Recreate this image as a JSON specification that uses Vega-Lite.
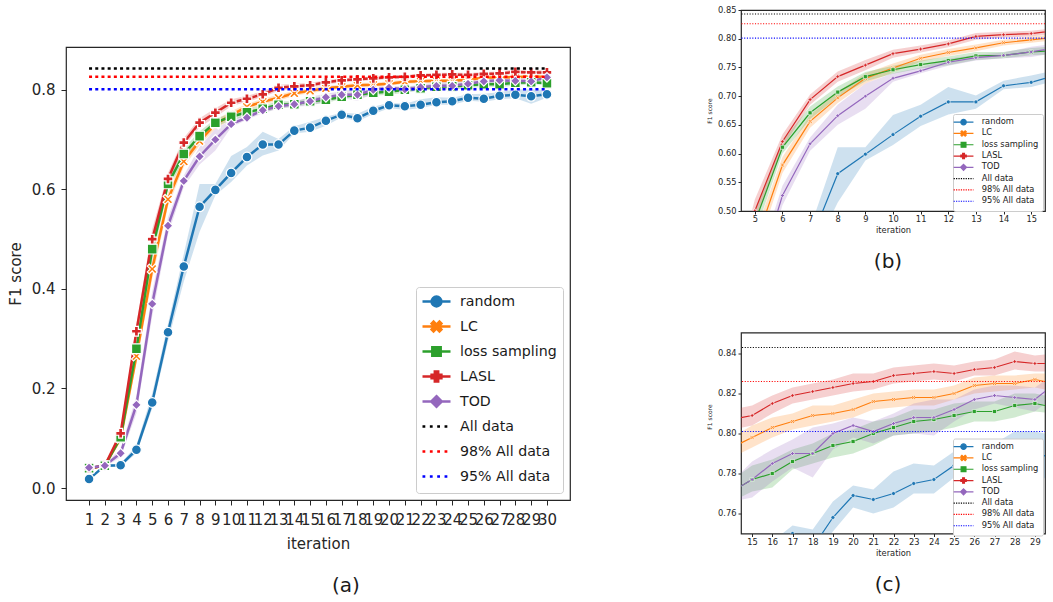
{
"$schema": "https://vega.github.io/schema/vega-lite/v6.json",
"background": "white",
"padding": {"left": 7, "top": 4, "right": 0, "bottom": 0},
"config": {
  "font": "DejaVu Sans",
  "view": {"stroke": "#262626", "strokeWidth": 1.2},
  "axis": {"grid": false, "domain": false, "tickColor": "#262626", "labelColor": "#262626", "titleColor": "#262626", "titleFontWeight": "normal", "labelFont": "DejaVu Sans", "titleFont": "DejaVu Sans"},
  "legend": {"labelFont": "DejaVu Sans", "labelColor": "#1a1a1a"},
  "title": {"font": "DejaVu Sans", "fontWeight": "normal", "color": "#1a1a1a"}
},
"datasets": {
"refs": [
{"method": "All data", "f1": 0.843, "from": 1, "to": 30},
{"method": "98% All data", "f1": 0.826, "from": 1, "to": 30},
{"method": "95% All data", "f1": 0.801, "from": 1, "to": 30}
],
"main": [
{"method":"random","iteration":1,"f1":0.018,"lo":0.016,"hi":0.020},
{"method":"random","iteration":2,"f1":0.045,"lo":0.043,"hi":0.047},
{"method":"random","iteration":3,"f1":0.046,"lo":0.043,"hi":0.049},
{"method":"random","iteration":4,"f1":0.077,"lo":0.070,"hi":0.086},
{"method":"random","iteration":5,"f1":0.172,"lo":0.160,"hi":0.190},
{"method":"random","iteration":6,"f1":0.313,"lo":0.295,"hi":0.330},
{"method":"random","iteration":7,"f1":0.445,"lo":0.415,"hi":0.470},
{"method":"random","iteration":8,"f1":0.565,"lo":0.515,"hi":0.611},
{"method":"random","iteration":9,"f1":0.599,"lo":0.588,"hi":0.611},
{"method":"random","iteration":10,"f1":0.633,"lo":0.615,"hi":0.667},
{"method":"random","iteration":11,"f1":0.665,"lo":0.648,"hi":0.685},
{"method":"random","iteration":12,"f1":0.690,"lo":0.668,"hi":0.716},
{"method":"random","iteration":13,"f1":0.690,"lo":0.678,"hi":0.701},
{"method":"random","iteration":14,"f1":0.718,"lo":0.712,"hi":0.727},
{"method":"random","iteration":15,"f1":0.724,"lo":0.716,"hi":0.736},
{"method":"random","iteration":16,"f1":0.738,"lo":0.728,"hi":0.746},
{"method":"random","iteration":17,"f1":0.750,"lo":0.745,"hi":0.754},
{"method":"random","iteration":18,"f1":0.743,"lo":0.737,"hi":0.752},
{"method":"random","iteration":19,"f1":0.758,"lo":0.751,"hi":0.766},
{"method":"random","iteration":20,"f1":0.769,"lo":0.763,"hi":0.774},
{"method":"random","iteration":21,"f1":0.767,"lo":0.760,"hi":0.772},
{"method":"random","iteration":22,"f1":0.770,"lo":0.763,"hi":0.781},
{"method":"random","iteration":23,"f1":0.775,"lo":0.770,"hi":0.785},
{"method":"random","iteration":24,"f1":0.777,"lo":0.770,"hi":0.784},
{"method":"random","iteration":25,"f1":0.784,"lo":0.778,"hi":0.791},
{"method":"random","iteration":26,"f1":0.782,"lo":0.776,"hi":0.792},
{"method":"random","iteration":27,"f1":0.788,"lo":0.781,"hi":0.795},
{"method":"random","iteration":28,"f1":0.790,"lo":0.783,"hi":0.801},
{"method":"random","iteration":29,"f1":0.787,"lo":0.772,"hi":0.801},
{"method":"random","iteration":30,"f1":0.791,"lo":0.784,"hi":0.799},
{"method":"LC","iteration":1,"f1":0.040,"lo":0.037,"hi":0.043},
{"method":"LC","iteration":2,"f1":0.045,"lo":0.043,"hi":0.047},
{"method":"LC","iteration":3,"f1":0.100,"lo":0.094,"hi":0.106},
{"method":"LC","iteration":4,"f1":0.265,"lo":0.250,"hi":0.280},
{"method":"LC","iteration":5,"f1":0.440,"lo":0.420,"hi":0.460},
{"method":"LC","iteration":6,"f1":0.580,"lo":0.566,"hi":0.594},
{"method":"LC","iteration":7,"f1":0.656,"lo":0.645,"hi":0.667},
{"method":"LC","iteration":8,"f1":0.697,"lo":0.688,"hi":0.707},
{"method":"LC","iteration":9,"f1":0.731,"lo":0.722,"hi":0.740},
{"method":"LC","iteration":10,"f1":0.749,"lo":0.741,"hi":0.757},
{"method":"LC","iteration":11,"f1":0.766,"lo":0.760,"hi":0.772},
{"method":"LC","iteration":12,"f1":0.776,"lo":0.770,"hi":0.782},
{"method":"LC","iteration":13,"f1":0.784,"lo":0.778,"hi":0.790},
{"method":"LC","iteration":14,"f1":0.793,"lo":0.788,"hi":0.798},
{"method":"LC","iteration":15,"f1":0.798,"lo":0.793,"hi":0.804},
{"method":"LC","iteration":16,"f1":0.803,"lo":0.798,"hi":0.808},
{"method":"LC","iteration":17,"f1":0.806,"lo":0.802,"hi":0.810},
{"method":"LC","iteration":18,"f1":0.809,"lo":0.804,"hi":0.814},
{"method":"LC","iteration":19,"f1":0.810,"lo":0.806,"hi":0.814},
{"method":"LC","iteration":20,"f1":0.812,"lo":0.808,"hi":0.817},
{"method":"LC","iteration":21,"f1":0.816,"lo":0.812,"hi":0.820},
{"method":"LC","iteration":22,"f1":0.817,"lo":0.813,"hi":0.821},
{"method":"LC","iteration":23,"f1":0.818,"lo":0.814,"hi":0.822},
{"method":"LC","iteration":24,"f1":0.818,"lo":0.814,"hi":0.822},
{"method":"LC","iteration":25,"f1":0.820,"lo":0.817,"hi":0.824},
{"method":"LC","iteration":26,"f1":0.824,"lo":0.820,"hi":0.828},
{"method":"LC","iteration":27,"f1":0.825,"lo":0.821,"hi":0.829},
{"method":"LC","iteration":28,"f1":0.825,"lo":0.822,"hi":0.829},
{"method":"LC","iteration":29,"f1":0.827,"lo":0.823,"hi":0.830},
{"method":"LC","iteration":30,"f1":0.825,"lo":0.821,"hi":0.830},
{"method":"loss sampling","iteration":1,"f1":0.040,"lo":0.037,"hi":0.043},
{"method":"loss sampling","iteration":2,"f1":0.045,"lo":0.043,"hi":0.047},
{"method":"loss sampling","iteration":3,"f1":0.102,"lo":0.096,"hi":0.108},
{"method":"loss sampling","iteration":4,"f1":0.280,"lo":0.265,"hi":0.295},
{"method":"loss sampling","iteration":5,"f1":0.480,"lo":0.460,"hi":0.500},
{"method":"loss sampling","iteration":6,"f1":0.611,"lo":0.600,"hi":0.622},
{"method":"loss sampling","iteration":7,"f1":0.671,"lo":0.660,"hi":0.682},
{"method":"loss sampling","iteration":8,"f1":0.707,"lo":0.698,"hi":0.717},
{"method":"loss sampling","iteration":9,"f1":0.734,"lo":0.726,"hi":0.742},
{"method":"loss sampling","iteration":10,"f1":0.746,"lo":0.739,"hi":0.753},
{"method":"loss sampling","iteration":11,"f1":0.755,"lo":0.748,"hi":0.762},
{"method":"loss sampling","iteration":12,"f1":0.762,"lo":0.754,"hi":0.769},
{"method":"loss sampling","iteration":13,"f1":0.770,"lo":0.763,"hi":0.777},
{"method":"loss sampling","iteration":14,"f1":0.771,"lo":0.766,"hi":0.777},
{"method":"loss sampling","iteration":15,"f1":0.777,"lo":0.771,"hi":0.784},
{"method":"loss sampling","iteration":16,"f1":0.780,"lo":0.773,"hi":0.787},
{"method":"loss sampling","iteration":17,"f1":0.786,"lo":0.782,"hi":0.792},
{"method":"loss sampling","iteration":18,"f1":0.790,"lo":0.785,"hi":0.795},
{"method":"loss sampling","iteration":19,"f1":0.794,"lo":0.788,"hi":0.800},
{"method":"loss sampling","iteration":20,"f1":0.796,"lo":0.790,"hi":0.802},
{"method":"loss sampling","iteration":21,"f1":0.800,"lo":0.794,"hi":0.806},
{"method":"loss sampling","iteration":22,"f1":0.803,"lo":0.799,"hi":0.808},
{"method":"loss sampling","iteration":23,"f1":0.806,"lo":0.800,"hi":0.812},
{"method":"loss sampling","iteration":24,"f1":0.807,"lo":0.801,"hi":0.812},
{"method":"loss sampling","iteration":25,"f1":0.809,"lo":0.803,"hi":0.815},
{"method":"loss sampling","iteration":26,"f1":0.811,"lo":0.806,"hi":0.816},
{"method":"loss sampling","iteration":27,"f1":0.811,"lo":0.806,"hi":0.816},
{"method":"loss sampling","iteration":28,"f1":0.814,"lo":0.808,"hi":0.820},
{"method":"loss sampling","iteration":29,"f1":0.815,"lo":0.811,"hi":0.820},
{"method":"loss sampling","iteration":30,"f1":0.813,"lo":0.810,"hi":0.818},
{"method":"LASL","iteration":1,"f1":0.040,"lo":0.037,"hi":0.043},
{"method":"LASL","iteration":2,"f1":0.045,"lo":0.043,"hi":0.047},
{"method":"LASL","iteration":3,"f1":0.110,"lo":0.104,"hi":0.116},
{"method":"LASL","iteration":4,"f1":0.315,"lo":0.300,"hi":0.330},
{"method":"LASL","iteration":5,"f1":0.500,"lo":0.480,"hi":0.520},
{"method":"LASL","iteration":6,"f1":0.621,"lo":0.610,"hi":0.633},
{"method":"LASL","iteration":7,"f1":0.694,"lo":0.685,"hi":0.703},
{"method":"LASL","iteration":8,"f1":0.734,"lo":0.725,"hi":0.743},
{"method":"LASL","iteration":9,"f1":0.754,"lo":0.745,"hi":0.763},
{"method":"LASL","iteration":10,"f1":0.774,"lo":0.767,"hi":0.781},
{"method":"LASL","iteration":11,"f1":0.782,"lo":0.776,"hi":0.788},
{"method":"LASL","iteration":12,"f1":0.791,"lo":0.785,"hi":0.797},
{"method":"LASL","iteration":13,"f1":0.804,"lo":0.798,"hi":0.810},
{"method":"LASL","iteration":14,"f1":0.807,"lo":0.802,"hi":0.812},
{"method":"LASL","iteration":15,"f1":0.809,"lo":0.804,"hi":0.814},
{"method":"LASL","iteration":16,"f1":0.815,"lo":0.810,"hi":0.819},
{"method":"LASL","iteration":17,"f1":0.819,"lo":0.815,"hi":0.823},
{"method":"LASL","iteration":18,"f1":0.821,"lo":0.817,"hi":0.825},
{"method":"LASL","iteration":19,"f1":0.823,"lo":0.819,"hi":0.827},
{"method":"LASL","iteration":20,"f1":0.825,"lo":0.821,"hi":0.830},
{"method":"LASL","iteration":21,"f1":0.826,"lo":0.822,"hi":0.830},
{"method":"LASL","iteration":22,"f1":0.829,"lo":0.825,"hi":0.833},
{"method":"LASL","iteration":23,"f1":0.830,"lo":0.826,"hi":0.834},
{"method":"LASL","iteration":24,"f1":0.831,"lo":0.827,"hi":0.835},
{"method":"LASL","iteration":25,"f1":0.830,"lo":0.826,"hi":0.834},
{"method":"LASL","iteration":26,"f1":0.832,"lo":0.829,"hi":0.836},
{"method":"LASL","iteration":27,"f1":0.833,"lo":0.829,"hi":0.837},
{"method":"LASL","iteration":28,"f1":0.836,"lo":0.832,"hi":0.841},
{"method":"LASL","iteration":29,"f1":0.835,"lo":0.831,"hi":0.839},
{"method":"LASL","iteration":30,"f1":0.835,"lo":0.831,"hi":0.840},
{"method":"TOD","iteration":1,"f1":0.041,"lo":0.038,"hi":0.044},
{"method":"TOD","iteration":2,"f1":0.045,"lo":0.043,"hi":0.047},
{"method":"TOD","iteration":3,"f1":0.070,"lo":0.062,"hi":0.080},
{"method":"TOD","iteration":4,"f1":0.167,"lo":0.150,"hi":0.185},
{"method":"TOD","iteration":5,"f1":0.370,"lo":0.345,"hi":0.395},
{"method":"TOD","iteration":6,"f1":0.527,"lo":0.510,"hi":0.544},
{"method":"TOD","iteration":7,"f1":0.617,"lo":0.605,"hi":0.628},
{"method":"TOD","iteration":8,"f1":0.666,"lo":0.650,"hi":0.685},
{"method":"TOD","iteration":9,"f1":0.700,"lo":0.678,"hi":0.722},
{"method":"TOD","iteration":10,"f1":0.731,"lo":0.725,"hi":0.740},
{"method":"TOD","iteration":11,"f1":0.744,"lo":0.740,"hi":0.750},
{"method":"TOD","iteration":12,"f1":0.759,"lo":0.753,"hi":0.765},
{"method":"TOD","iteration":13,"f1":0.767,"lo":0.762,"hi":0.772},
{"method":"TOD","iteration":14,"f1":0.771,"lo":0.766,"hi":0.776},
{"method":"TOD","iteration":15,"f1":0.777,"lo":0.768,"hi":0.786},
{"method":"TOD","iteration":16,"f1":0.785,"lo":0.776,"hi":0.792},
{"method":"TOD","iteration":17,"f1":0.790,"lo":0.783,"hi":0.797},
{"method":"TOD","iteration":18,"f1":0.790,"lo":0.778,"hi":0.803},
{"method":"TOD","iteration":19,"f1":0.800,"lo":0.792,"hi":0.805},
{"method":"TOD","iteration":20,"f1":0.804,"lo":0.798,"hi":0.808},
{"method":"TOD","iteration":21,"f1":0.801,"lo":0.795,"hi":0.806},
{"method":"TOD","iteration":22,"f1":0.805,"lo":0.799,"hi":0.810},
{"method":"TOD","iteration":23,"f1":0.808,"lo":0.800,"hi":0.815},
{"method":"TOD","iteration":24,"f1":0.808,"lo":0.799,"hi":0.817},
{"method":"TOD","iteration":25,"f1":0.812,"lo":0.806,"hi":0.817},
{"method":"TOD","iteration":26,"f1":0.817,"lo":0.812,"hi":0.822},
{"method":"TOD","iteration":27,"f1":0.819,"lo":0.815,"hi":0.824},
{"method":"TOD","iteration":28,"f1":0.818,"lo":0.813,"hi":0.824},
{"method":"TOD","iteration":29,"f1":0.817,"lo":0.811,"hi":0.823},
{"method":"TOD","iteration":30,"f1":0.825,"lo":0.819,"hi":0.830}
]
},
"spacing": 134,
"resolve": {"scale": {"color": "independent", "shape": "independent"}, "legend": {"color": "independent", "shape": "independent"}},
"hconcat": [
{
 "spacing": 26,
 "resolve": {"scale": {"color": "independent", "shape": "independent"}, "legend": {"color": "independent", "shape": "independent"}},
 "vconcat": [
 {
  "width": 504, "height": 10,
  "view": {"stroke": null, "fill": null},
  "data": {"values": [{"caption": ""}]},
  "mark": {"type": "text"},
  "encoding": {"text": {"field": "caption", "type": "nominal"}}
 },
 {
  "width": 504, "height": 453,
  "title": {"text": "(a)", "orient": "bottom", "fontSize": 20, "offset": 25, "dx": 28, "anchor": "middle"},
  "encoding": {
    "color": {"field": "method", "type": "nominal",
      "scale": {"domain": ["random","LC","loss sampling","LASL","TOD","All data","98% All data","95% All data"], "range": ["#1f77b4","#ff7f0e","#2ca02c","#d62728","#9467bd","#000000","#ff0000","#0000ff"]},
      "legend": {"title": null, "orient": "none", "legendX": 350, "legendY": 240, "fillColor": "white", "strokeColor": "#cccccc", "cornerRadius": 3, "padding": 6, "labelFontSize": 14.2, "symbolSize": 196, "symbolOffset": 6, "labelOffset": 15, "rowPadding": 4.0, "symbolStrokeWidth": 2.5,
        "encode": {"symbols": {"update": {
          "shape": {"signal": "['M-2,0H2M0.7,0A0.7,0.7,0,1,1,-0.7,0A0.7,0.7,0,1,1,0.7,0ZM0,-0.75M0,0.75','M-2,0H2M-0.7,-0.42L-0.42,-0.7L0,-0.28L0.42,-0.7L0.7,-0.42L0.28,0L0.7,0.42L0.42,0.7L0,0.28L-0.42,0.7L-0.7,0.42L-0.28,0ZM0,-0.75M0,0.75','M-2,0H2M-0.6,-0.6H0.6V0.6H-0.6ZM0,-0.75M0,0.75','M-2,0H2M-0.24,-0.7H0.24V-0.24H0.7V0.24H0.24V0.7H-0.24V0.24H-0.7V-0.24H-0.24ZM0,-0.75M0,0.75','M-2,0H2M0,-0.75L0.75,0L0,0.75L-0.75,0Z','M-2,0h0.4M-0.95,0h0.4M0.1,0h0.4M1.15,0h0.4M0,-0.75M0,0.75','M-2,0h0.4M-0.95,0h0.4M0.1,0h0.4M1.15,0h0.4M0,-0.75M0,0.75','M-2,0h0.4M-0.95,0h0.4M0.1,0h0.4M1.15,0h0.4M0,-0.75M0,0.75'][indexof(['random','LC','loss sampling','LASL','TOD','All data','98% All data','95% All data'], datum.value)]"},
          "fill": {"signal": "indexof(['random','LC','loss sampling','LASL','TOD'], datum.value) >= 0 ? ['#1f77b4','#ff7f0e','#2ca02c','#d62728','#9467bd'][indexof(['random','LC','loss sampling','LASL','TOD'], datum.value)] : 'transparent'"},
          "stroke": {"signal": "['#1f77b4','#ff7f0e','#2ca02c','#d62728','#9467bd','#000000','#ff0000','#0000ff'][indexof(['random','LC','loss sampling','LASL','TOD','All data','98% All data','95% All data'], datum.value)]"},
          "strokeWidth": {"value": 2.5},
          "strokeDash": {"value": []},
          "opacity": {"value": 1}
        }}}
      }
    }
  },
  "layer": [
   {"data": {"name": "main"}, "mark": {"type": "area", "opacity": 0.22},
    "encoding": {
     "x": {"field": "iteration", "type": "quantitative", "title": "iteration", "scale": {"domain": [-0.46, 31.46], "nice": false, "zero": false},
       "axis": {"values": [1,2,3,4,5,6,7,8,9,10,11,12,13,14,15,16,17,18,19,20,21,22,23,24,25,26,27,28,29,30], "tickCount": 30, "labelFontSize": 15, "titleFontSize": 15, "labelOverlap": false, "labelFlush": false, "labelBound": false, "tickSize": 5, "labelPadding": 7, "titlePadding": 9}},
     "y": {"field": "lo", "type": "quantitative", "title": "F1 score", "scale": {"domain": [-0.024, 0.886], "nice": false, "zero": false},
       "axis": {"values": [0, 0.2, 0.4, 0.6, 0.8], "tickCount": 5, "format": ".1f", "labelFontSize": 15, "titleFontSize": 15, "tickSize": 5, "labelPadding": 6, "titlePadding": 8}},
     "y2": {"field": "hi"}
    }},
   {"data": {"name": "main"}, "mark": {"type": "line", "strokeWidth": 2.5},
    "encoding": {
     "x": {"field": "iteration", "type": "quantitative", "title": "iteration", "scale": {"domain": [-0.46, 31.46], "nice": false, "zero": false}},
     "y": {"field": "f1", "type": "quantitative", "title": "F1 score", "scale": {"domain": [-0.024, 0.886], "nice": false, "zero": false}}
    }},
   {"data": {"name": "main"}, "mark": {"type": "point", "filled": true, "stroke": "white", "strokeWidth": 1.2, "size": 95, "opacity": 1},
    "encoding": {
     "x": {"field": "iteration", "type": "quantitative", "title": "iteration", "scale": {"domain": [-0.46, 31.46], "nice": false, "zero": false}},
     "y": {"field": "f1", "type": "quantitative", "title": "F1 score", "scale": {"domain": [-0.024, 0.886], "nice": false, "zero": false}},
     "shape": {"field": "method", "type": "nominal", "legend": null, "scale": {"domain": ["random","LC","loss sampling","LASL","TOD"], "range": ["circle", "M-1,-0.6L-0.6,-1L0,-0.4L0.6,-1L1,-0.6L0.4,0L1,0.6L0.6,1L0,0.4L-0.6,1L-1,0.6L-0.4,0Z", "square", "cross", "diamond"]}}
    }},
   {"data": {"name": "refs"}, "mark": {"type": "rule", "strokeWidth": 2.5, "strokeDash": [3, 3.2]},
    "encoding": {
     "x": {"field": "from", "type": "quantitative", "title": "iteration", "scale": {"domain": [-0.46, 31.46], "nice": false, "zero": false}},
     "x2": {"field": "to"},
     "y": {"field": "f1", "type": "quantitative", "title": "F1 score", "scale": {"domain": [-0.024, 0.886], "nice": false, "zero": false}}
    }}
  ]
 }
 ]
},
{
 "spacing": 58.5,
 "resolve": {"scale": {"color": "independent", "shape": "independent"}, "legend": {"color": "independent", "shape": "independent"}},
 "vconcat": [
 {
  "width": 304, "height": 201,
  "title": {"text": "(b)", "orient": "bottom", "fontSize": 20, "offset": 18, "dx": -5, "anchor": "middle"},
  "encoding": {
    "color": {"field": "method", "type": "nominal",
      "scale": {"domain": ["random","LC","loss sampling","LASL","TOD","All data","98% All data","95% All data"], "range": ["#1f77b4","#ff7f0e","#2ca02c","#d62728","#9467bd","#000000","#ff0000","#0000ff"]},
      "legend": {"title": null, "orient": "none", "legendX": 212, "legendY": 104, "fillColor": "white", "strokeColor": "#cccccc", "cornerRadius": 2, "padding": 4, "labelFontSize": 8.3, "symbolSize": 36, "symbolOffset": 2.4, "labelOffset": 14, "rowPadding": -0.7, "symbolStrokeWidth": 1.2,
        "encode": {"symbols": {"update": {
          "shape": {"signal": "['M-3.3,0H3.3M0.9,0A0.9,0.9,0,1,1,-0.9,0A0.9,0.9,0,1,1,0.9,0ZM0,-1M0,1','M-3.3,0H3.3M-0.9,-0.54L-0.54,-0.9L0,-0.36L0.54,-0.9L0.9,-0.54L0.36,0L0.9,0.54L0.54,0.9L0,0.36L-0.54,0.9L-0.9,0.54L-0.36,0ZM0,-1M0,1','M-3.3,0H3.3M-0.8,-0.8H0.8V0.8H-0.8ZM0,-1M0,1','M-3.3,0H3.3M-0.3,-0.9H0.3V-0.3H0.9V0.3H0.3V0.9H-0.3V0.3H-0.9V-0.3H-0.3ZM0,-1M0,1','M-3.3,0H3.3M0,-1L1,0L0,1L-1,0Z','M-3.3,0h0.4M-2.5,0h0.4M-1.7,0h0.4M-0.9,0h0.4M-0.1,0h0.4M0.7,0h0.4M1.5,0h0.4M2.3,0h0.4M3.1,0h0.2M0,-1M0,1','M-3.3,0h0.4M-2.5,0h0.4M-1.7,0h0.4M-0.9,0h0.4M-0.1,0h0.4M0.7,0h0.4M1.5,0h0.4M2.3,0h0.4M3.1,0h0.2M0,-1M0,1','M-3.3,0h0.4M-2.5,0h0.4M-1.7,0h0.4M-0.9,0h0.4M-0.1,0h0.4M0.7,0h0.4M1.5,0h0.4M2.3,0h0.4M3.1,0h0.2M0,-1M0,1'][indexof(['random','LC','loss sampling','LASL','TOD','All data','98% All data','95% All data'], datum.value)]"},
          "fill": {"signal": "indexof(['random','LC','loss sampling','LASL','TOD'], datum.value) >= 0 ? ['#1f77b4','#ff7f0e','#2ca02c','#d62728','#9467bd'][indexof(['random','LC','loss sampling','LASL','TOD'], datum.value)] : 'transparent'"},
          "stroke": {"signal": "['#1f77b4','#ff7f0e','#2ca02c','#d62728','#9467bd','#000000','#ff0000','#0000ff'][indexof(['random','LC','loss sampling','LASL','TOD','All data','98% All data','95% All data'], datum.value)]"},
          "strokeWidth": {"value": 1.2},
          "strokeDash": {"value": []},
          "opacity": {"value": 1}
        }}}
      }
    }
  },
  "layer": [
   {"data": {"name": "main"}, "mark": {"type": "area", "opacity": 0.22, "clip": true},
    "encoding": {
     "x": {"field": "iteration", "type": "quantitative", "title": "iteration", "scale": {"domain": [4.5, 15.5], "nice": false, "zero": false},
       "axis": {"values": [5,6,7,8,9,10,11,12,13,14,15], "tickCount": 11, "labelFontSize": 8.3, "titleFontSize": 8.3, "labelOverlap": false, "labelFlush": false, "tickSize": 3, "labelPadding": 0.5, "titlePadding": 3}},
     "y": {"field": "lo", "type": "quantitative", "title": "F1 score", "scale": {"domain": [0.5, 0.85], "nice": false, "zero": false},
       "axis": {"values": [0.5, 0.55, 0.6, 0.65, 0.7, 0.75, 0.8, 0.85], "tickCount": 8, "labelOverlap": false, "format": ".2f", "labelFontSize": 8.3, "titleFontSize": 6, "tickSize": 3, "labelPadding": 2, "titlePadding": 5}},
     "y2": {"field": "hi"}
    }},
   {"data": {"name": "main"}, "mark": {"type": "line", "strokeWidth": 1.2, "clip": true},
    "encoding": {
     "x": {"field": "iteration", "type": "quantitative", "title": "iteration", "scale": {"domain": [4.5, 15.5], "nice": false, "zero": false}},
     "y": {"field": "f1", "type": "quantitative", "title": "F1 score", "scale": {"domain": [0.5, 0.85], "nice": false, "zero": false}}
    }},
   {"data": {"name": "main"}, "mark": {"type": "point", "filled": true, "stroke": "white", "strokeWidth": 0.6, "size": 16, "opacity": 1, "clip": true},
    "encoding": {
     "x": {"field": "iteration", "type": "quantitative", "title": "iteration", "scale": {"domain": [4.5, 15.5], "nice": false, "zero": false}},
     "y": {"field": "f1", "type": "quantitative", "title": "F1 score", "scale": {"domain": [0.5, 0.85], "nice": false, "zero": false}},
     "shape": {"field": "method", "type": "nominal", "legend": null, "scale": {"domain": ["random","LC","loss sampling","LASL","TOD"], "range": ["circle", "M-1,-0.6L-0.6,-1L0,-0.4L0.6,-1L1,-0.6L0.4,0L1,0.6L0.6,1L0,0.4L-0.6,1L-1,0.6L-0.4,0Z", "square", "cross", "diamond"]}}
    }},
   {"data": {"name": "refs"}, "mark": {"type": "rule", "strokeWidth": 1.1, "strokeDash": [1.1, 1.6], "clip": true},
    "encoding": {
     "x": {"field": "from", "type": "quantitative", "title": "iteration", "scale": {"domain": [4.5, 15.5], "nice": false, "zero": false}},
     "x2": {"field": "to"},
     "y": {"field": "f1", "type": "quantitative", "title": "F1 score", "scale": {"domain": [0.5, 0.85], "nice": false, "zero": false}}
    }}
  ]
 },
 {
  "width": 304, "height": 201,
  "title": {"text": "(c)", "orient": "bottom", "fontSize": 20, "offset": 18, "dx": -5, "anchor": "middle"},
  "encoding": {
    "color": {"field": "method", "type": "nominal",
      "scale": {"domain": ["random","LC","loss sampling","LASL","TOD","All data","98% All data","95% All data"], "range": ["#1f77b4","#ff7f0e","#2ca02c","#d62728","#9467bd","#000000","#ff0000","#0000ff"]},
      "legend": {"title": null, "orient": "none", "legendX": 212, "legendY": 106, "fillColor": "white", "strokeColor": "#cccccc", "cornerRadius": 2, "padding": 4, "labelFontSize": 8.3, "symbolSize": 36, "symbolOffset": 2.4, "labelOffset": 14, "rowPadding": -0.7, "symbolStrokeWidth": 1.2,
        "encode": {"symbols": {"update": {
          "shape": {"signal": "['M-3.3,0H3.3M0.9,0A0.9,0.9,0,1,1,-0.9,0A0.9,0.9,0,1,1,0.9,0ZM0,-1M0,1','M-3.3,0H3.3M-0.9,-0.54L-0.54,-0.9L0,-0.36L0.54,-0.9L0.9,-0.54L0.36,0L0.9,0.54L0.54,0.9L0,0.36L-0.54,0.9L-0.9,0.54L-0.36,0ZM0,-1M0,1','M-3.3,0H3.3M-0.8,-0.8H0.8V0.8H-0.8ZM0,-1M0,1','M-3.3,0H3.3M-0.3,-0.9H0.3V-0.3H0.9V0.3H0.3V0.9H-0.3V0.3H-0.9V-0.3H-0.3ZM0,-1M0,1','M-3.3,0H3.3M0,-1L1,0L0,1L-1,0Z','M-3.3,0h0.4M-2.5,0h0.4M-1.7,0h0.4M-0.9,0h0.4M-0.1,0h0.4M0.7,0h0.4M1.5,0h0.4M2.3,0h0.4M3.1,0h0.2M0,-1M0,1','M-3.3,0h0.4M-2.5,0h0.4M-1.7,0h0.4M-0.9,0h0.4M-0.1,0h0.4M0.7,0h0.4M1.5,0h0.4M2.3,0h0.4M3.1,0h0.2M0,-1M0,1','M-3.3,0h0.4M-2.5,0h0.4M-1.7,0h0.4M-0.9,0h0.4M-0.1,0h0.4M0.7,0h0.4M1.5,0h0.4M2.3,0h0.4M3.1,0h0.2M0,-1M0,1'][indexof(['random','LC','loss sampling','LASL','TOD','All data','98% All data','95% All data'], datum.value)]"},
          "fill": {"signal": "indexof(['random','LC','loss sampling','LASL','TOD'], datum.value) >= 0 ? ['#1f77b4','#ff7f0e','#2ca02c','#d62728','#9467bd'][indexof(['random','LC','loss sampling','LASL','TOD'], datum.value)] : 'transparent'"},
          "stroke": {"signal": "['#1f77b4','#ff7f0e','#2ca02c','#d62728','#9467bd','#000000','#ff0000','#0000ff'][indexof(['random','LC','loss sampling','LASL','TOD','All data','98% All data','95% All data'], datum.value)]"},
          "strokeWidth": {"value": 1.2},
          "strokeDash": {"value": []},
          "opacity": {"value": 1}
        }}}
      }
    }
  },
  "layer": [
   {"data": {"name": "main"}, "mark": {"type": "area", "opacity": 0.22, "clip": true},
    "encoding": {
     "x": {"field": "iteration", "type": "quantitative", "title": "iteration", "scale": {"domain": [14.45, 29.5], "nice": false, "zero": false},
       "axis": {"values": [15,16,17,18,19,20,21,22,23,24,25,26,27,28,29], "tickCount": 15, "labelFontSize": 8.3, "titleFontSize": 8.3, "labelOverlap": false, "labelFlush": false, "tickSize": 3, "labelPadding": 0.5, "titlePadding": 3}},
     "y": {"field": "lo", "type": "quantitative", "title": "F1 score", "scale": {"domain": [0.75, 0.8505], "nice": false, "zero": false},
       "axis": {"values": [0.76, 0.78, 0.8, 0.82, 0.84], "tickCount": 5, "labelOverlap": false, "format": ".2f", "labelFontSize": 8.3, "titleFontSize": 6, "tickSize": 3, "labelPadding": 2, "titlePadding": 5, "titleY": 84}},
     "y2": {"field": "hi"}
    }},
   {"data": {"name": "main"}, "mark": {"type": "line", "strokeWidth": 1.2, "clip": true},
    "encoding": {
     "x": {"field": "iteration", "type": "quantitative", "title": "iteration", "scale": {"domain": [14.45, 29.5], "nice": false, "zero": false}},
     "y": {"field": "f1", "type": "quantitative", "title": "F1 score", "scale": {"domain": [0.75, 0.8505], "nice": false, "zero": false}}
    }},
   {"data": {"name": "main"}, "mark": {"type": "point", "filled": true, "stroke": "white", "strokeWidth": 0.6, "size": 16, "opacity": 1, "clip": true},
    "encoding": {
     "x": {"field": "iteration", "type": "quantitative", "title": "iteration", "scale": {"domain": [14.45, 29.5], "nice": false, "zero": false}},
     "y": {"field": "f1", "type": "quantitative", "title": "F1 score", "scale": {"domain": [0.75, 0.8505], "nice": false, "zero": false}},
     "shape": {"field": "method", "type": "nominal", "legend": null, "scale": {"domain": ["random","LC","loss sampling","LASL","TOD"], "range": ["circle", "M-1,-0.6L-0.6,-1L0,-0.4L0.6,-1L1,-0.6L0.4,0L1,0.6L0.6,1L0,0.4L-0.6,1L-1,0.6L-0.4,0Z", "square", "cross", "diamond"]}}
    }},
   {"data": {"name": "refs"}, "mark": {"type": "rule", "strokeWidth": 1.1, "strokeDash": [1.1, 1.6], "clip": true},
    "encoding": {
     "x": {"field": "from", "type": "quantitative", "title": "iteration", "scale": {"domain": [14.45, 29.5], "nice": false, "zero": false}},
     "x2": {"field": "to"},
     "y": {"field": "f1", "type": "quantitative", "title": "F1 score", "scale": {"domain": [0.75, 0.8505], "nice": false, "zero": false}}
    }}
  ]
 }
 ]
}
]
}
